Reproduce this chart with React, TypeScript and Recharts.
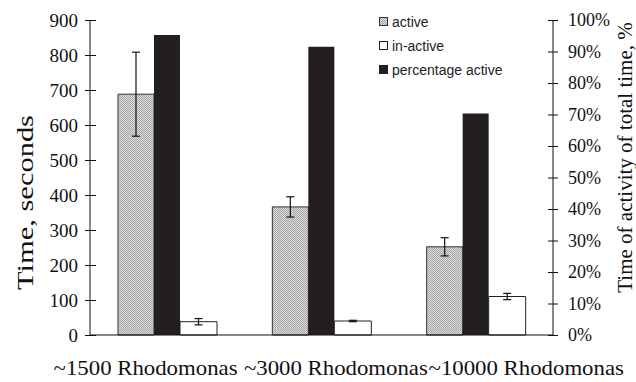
import { BarChart, Bar, XAxis, YAxis, ErrorBar, Legend } from 'recharts';

const categories = ['~1500 Rhodomonas', '~3000 Rhodomonas', '~10000 Rhodomonas'];
const activeTime = [688, 366, 252];
const activeErr = [120, 29, 26];
const inactiveTime = [38, 40, 110];
const inactiveErr = [9, 2, 9];
const percentActive = [95.2, 91.5, 70.3];
const secondTicks = [0, 100, 200, 300, 400, 500, 600, 700, 800, 900];
const percentTicks = [0, 10, 20, 30, 40, 50, 60, 70, 80, 90, 100];

const data = categories.map((name, i) => ({
  name,
  active: activeTime[i],
  activeErr: activeErr[i],
  inactive: inactiveTime[i],
  inactiveErr: inactiveErr[i],
  pct: percentActive[i],
}));

const serif = 'Liberation Serif, Tinos, Times New Roman, serif';
const sans = 'Liberation Sans, Arimo, Arial, sans-serif';

function LeftTick({ x, y, payload }: any) {
  return (
    <g transform={`translate(${x},${y})`}>
      <line x1={-5} x2={6} y1={0.5} y2={0.5} stroke="#111" />
      <text x={-12} y={0} dy="0.35em" textAnchor="end" style={{ fontFamily: serif, fontSize: 19 }} fill="#111">
        {payload.value}
      </text>
    </g>
  );
}

function RightTick({ x, y, payload }: any) {
  return (
    <g transform={`translate(${x},${y})`}>
      <line x1={-5} x2={5} y1={0.5} y2={0.5} stroke="#111" />
      <text x={15} y={0} dy="0.35em" textAnchor="start" style={{ fontFamily: serif, fontSize: 18 }} fill="#111">
        {payload.value}%
      </text>
    </g>
  );
}

// labels in the source sit a bit off the group centres, wider than the bands
function CategoryTick({ x, y, payload, index }: any) {
  const nudge = (index - 0.6) * 36;
  return (
    <text
      transform={`translate(${x + nudge},${y + 40}) scale(1.14,1)`}
      textAnchor="middle"
      style={{ fontFamily: serif, fontSize: 20 }}
      fill="#111"
    >
      {payload.value}
    </text>
  );
}

function LeftTitle({ viewBox }: any) {
  const cx = viewBox.x + 33;
  const cy = viewBox.y + viewBox.height / 2 + 25;
  return (
    <text
      transform={`translate(${cx},${cy}) rotate(-90)`}
      textAnchor="middle"
      style={{ fontFamily: serif, fontSize: 23 }}
      textLength={175}
      lengthAdjust="spacingAndGlyphs"
      fill="#111"
    >
      Time, seconds
    </text>
  );
}

function RightTitle({ viewBox }: any) {
  const cx = viewBox.x + 79;
  const cy = viewBox.y + viewBox.height / 2 - 20;
  return (
    <text
      transform={`translate(${cx},${cy}) rotate(-90)`}
      textAnchor="middle"
      style={{ fontFamily: serif, fontSize: 21 }}
      fill="#111"
    >
      Time of activity of total time, %
    </text>
  );
}

const legendItems = [
  { label: 'active', fill: 'url(#grayDots)', stroke: '#333' },
  { label: 'in-active', fill: '#fff', stroke: '#222' },
  { label: 'percentage active', fill: '#231f20', stroke: '#231f20' },
];

function LegendBox() {
  return (
    <svg width={150} height={72}>
      {legendItems.map((it, i) => (
        <g key={it.label} transform={`translate(0,${10 + i * 24})`}>
          <rect x={9.5} y={-4.5} width={8} height={8} fill={it.fill} stroke={it.stroke} />
          <text x={22} y={0} dy="0.35em" style={{ fontFamily: sans, fontSize: 14 }} fill="#222">
            {it.label}
          </text>
        </g>
      ))}
    </svg>
  );
}

export default function App() {
  return (
    <div style={{ position: 'absolute', left: 0, top: 0, width: 636, height: 382, background: '#fff' }}>
      <svg width={0} height={0} style={{ position: 'absolute' }}>
        <defs>
          <pattern id="grayDots" width={2} height={2} patternUnits="userSpaceOnUse">
            <rect width={2} height={2} fill="#dcdcdc" />
            <rect width={1} height={1} fill="#a6a6a6" />
            <rect x={1} y={1} width={1} height={1} fill="#a6a6a6" />
          </pattern>
        </defs>
      </svg>
      <BarChart
        width={636}
        height={382}
        data={data}
        margin={{ top: 20, right: 0, bottom: 0, left: 0 }}
        barGap={0}
      >
        <XAxis
          dataKey="name"
          height={47}
          axisLine={{ stroke: '#111' }}
          tickLine={false}
          tickSize={0}
          tickMargin={0}
          tick={<CategoryTick />}
          interval={0}
        />
        <YAxis
          yAxisId="left"
          orientation="left"
          width={90}
          domain={[0, 900]}
          ticks={secondTicks}
          axisLine={{ stroke: '#111' }}
          tickLine={false}
          tickSize={0}
          tickMargin={0}
          tick={<LeftTick />}
          label={{ content: <LeftTitle /> }}
        />
        <YAxis
          yAxisId="right"
          orientation="right"
          width={83}
          domain={[0, 100]}
          ticks={percentTicks}
          axisLine={{ stroke: '#111' }}
          tickLine={false}
          tickSize={0}
          tickMargin={0}
          tick={<RightTick />}
          label={{ content: <RightTitle /> }}
        />
        <Legend
          layout="vertical"
          align="center"
          verticalAlign="middle"
          content={<LegendBox />}
          wrapperStyle={{ left: 370, top: 12, width: 150 }}
        />
        <Bar
          yAxisId="left"
          dataKey="active"
          barSize={36}
          fill="url(#grayDots)"
          stroke="#333"
          strokeWidth={1}
          isAnimationActive={false}
        >
          <ErrorBar dataKey="activeErr" width={4} stroke="#111" strokeWidth={1.2} />
        </Bar>
        <Bar
          yAxisId="right"
          dataKey="pct"
          barSize={26}
          fill="#231f20"
          isAnimationActive={false}
        />
        <Bar
          yAxisId="left"
          dataKey="inactive"
          barSize={37}
          fill="#fff"
          stroke="#222"
          strokeWidth={1}
          isAnimationActive={false}
        >
          <ErrorBar dataKey="inactiveErr" width={4} stroke="#111" strokeWidth={1.2} />
        </Bar>
      </BarChart>
    </div>
  );
}
